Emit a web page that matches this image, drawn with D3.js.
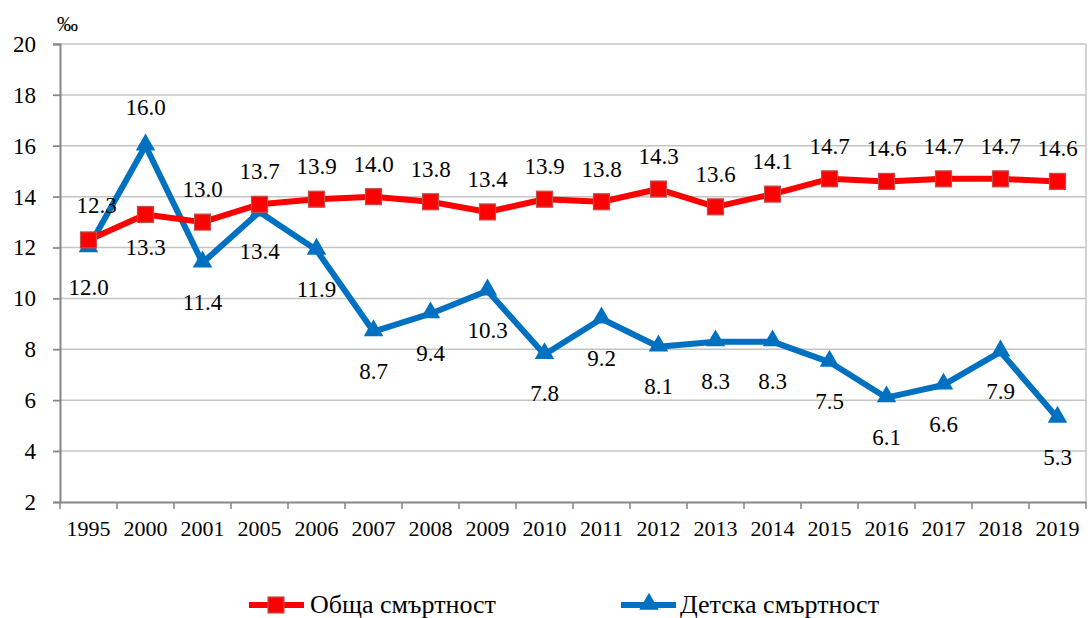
<!DOCTYPE html>
<html>
<head>
<meta charset="utf-8">
<script src="https://cdn.jsdelivr.net/npm/d3@7.9.0/dist/d3.min.js"></script>
<style>
  html, body { margin: 0; padding: 0; background: #fff; }
  svg { display: block; }
  text { font-family: "Liberation Serif", "Times New Roman", serif; fill: #000; }
</style>
</head>
<body>
<svg id="chart" width="1088" height="618"></svg>
<script>
const years = ['1995', '2000', '2001', '2005', '2006', '2007', '2008', '2009', '2010',
  '2011', '2012', '2013', '2014', '2015', '2016', '2017', '2018', '2019'];
const totalMortality = [12.3, 13.3, 13.0, 13.7, 13.9, 14.0, 13.8, 13.4, 13.9,
  13.8, 14.3, 13.6, 14.1, 14.7, 14.6, 14.7, 14.7, 14.6];
const infantMortality = [12.0, 16.0, 11.4, 13.4, 11.9, 8.7, 9.4, 10.3, 7.8,
  9.2, 8.1, 8.3, 8.3, 7.5, 6.1, 6.6, 7.9, 5.3];
const yTicks = [2, 4, 6, 8, 10, 12, 14, 16, 18, 20];
const seriesNames = ['Обща смъртност', 'Детска смъртност'];

const RED = '#ff0000';
const BLUE = '#0070c0';
const GRID = '#c4c4c4';
const AXIS = '#868686';

const svg = d3.select('#chart');

const x = d3.scaleBand().domain(years).range([60, 1086]);
const y = d3.scaleLinear().domain([2, 20]).range([502, 44]);
const cx = d => x(d) + x.bandwidth() / 2;

// gridlines
svg.append('g')
  .selectAll('line')
  .data(yTicks.slice(1))
  .join('line')
  .attr('x1', 53).attr('x2', 1086)
  .attr('y1', d => y(d)).attr('y2', d => y(d))
  .attr('stroke', GRID).attr('stroke-width', 1.5);

// right border of plot
svg.append('line')
  .attr('x1', 1086).attr('x2', 1086)
  .attr('y1', y(20)).attr('y2', y(2))
  .attr('stroke', GRID).attr('stroke-width', 1.5);

// y axis
const yAxis = svg.append('g')
  .attr('transform', 'translate(60,0)')
  .call(d3.axisLeft(y).tickValues(yTicks).tickSize(7).tickPadding(17));
yAxis.select('.domain').attr('stroke', AXIS).attr('stroke-width', 2);
yAxis.selectAll('.tick line').attr('stroke', AXIS).attr('stroke-width', 1.5);
yAxis.selectAll('.tick text')
  .attr('font-size', 23)
  .attr('fill', '#000');

// x axis
const xAxis = svg.append('g')
  .attr('transform', `translate(0,${y(2)})`)
  .call(d3.axisBottom(x).tickSize(0).tickPadding(18));
xAxis.select('.domain').attr('stroke', AXIS).attr('stroke-width', 2);
xAxis.selectAll('.tick text')
  .attr('font-size', 22)
  .attr('fill', '#000');
// tick marks at category boundaries
svg.append('g')
  .selectAll('line')
  .data(years.concat(['end']))
  .join('line')
  .attr('x1', (d, i) => i < years.length ? x(d) : x.range()[1])
  .attr('x2', (d, i) => i < years.length ? x(d) : x.range()[1])
  .attr('y1', y(2)).attr('y2', y(2) + 7)
  .attr('stroke', AXIS).attr('stroke-width', 1.5);

// unit label
svg.append('text')
  .attr('x', 57).attr('y', 31)
  .attr('font-size', 21)
  .text('‰');

const line = d3.line()
  .x((d, i) => cx(years[i]))
  .y(d => y(d));

// blue series first, red on top
svg.append('path')
  .datum(infantMortality)
  .attr('d', line)
  .attr('fill', 'none')
  .attr('stroke', BLUE)
  .attr('stroke-width', 6)
  .attr('stroke-linejoin', 'round');

svg.append('path')
  .datum(totalMortality)
  .attr('d', line)
  .attr('fill', 'none')
  .attr('stroke', RED)
  .attr('stroke-width', 6)
  .attr('stroke-linejoin', 'round');

const triangle = d3.symbol().type(d3.symbolTriangle).size(165);

svg.append('g')
  .selectAll('path')
  .data(infantMortality)
  .join('path')
  .attr('d', triangle)
  .attr('transform', (d, i) => `translate(${cx(years[i])},${y(d) - 1})`)
  .attr('fill', BLUE);

svg.append('g')
  .selectAll('rect')
  .data(totalMortality)
  .join('rect')
  .attr('x', (d, i) => cx(years[i]) - 8)
  .attr('y', d => y(d) - 8)
  .attr('width', 16).attr('height', 16)
  .attr('fill', RED)
  .attr('stroke', '#c0504d')
  .attr('stroke-width', 1.2);

// data labels
const fmt = d3.format('.1f');
svg.append('g')
  .selectAll('text')
  .data(totalMortality)
  .join('text')
  .attr('x', (d, i) => cx(years[i]) + (i === 0 ? 8 : 0))
  .attr('y', (d, i) => y(d) + (i === 1 ? 41 : (i === 0 ? -27 : -25)))
  .attr('text-anchor', 'middle')
  .attr('font-size', 23)
  .text(d => fmt(d));

svg.append('g')
  .selectAll('text')
  .data(infantMortality)
  .join('text')
  .attr('x', (d, i) => cx(years[i]))
  .attr('y', (d, i) => y(d) + (i === 1 ? -31 : 47))
  .attr('text-anchor', 'middle')
  .attr('font-size', 23)
  .text(d => fmt(d));

// legend
const legend = svg.append('g');
legend.append('line')
  .attr('x1', 249).attr('x2', 304).attr('y1', 605).attr('y2', 605)
  .attr('stroke', RED).attr('stroke-width', 6);
legend.append('rect')
  .attr('x', 268).attr('y', 597).attr('width', 16).attr('height', 16)
  .attr('fill', RED).attr('stroke', '#c0504d').attr('stroke-width', 1.2);
legend.append('text')
  .attr('x', 310).attr('y', 613)
  .attr('font-size', 26)
  .text(seriesNames[0]);

legend.append('line')
  .attr('x1', 621).attr('x2', 676).attr('y1', 605).attr('y2', 605)
  .attr('stroke', BLUE).attr('stroke-width', 6);
legend.append('path')
  .attr('d', triangle)
  .attr('transform', 'translate(649,604)')
  .attr('fill', BLUE);
legend.append('text')
  .attr('x', 680).attr('y', 613)
  .attr('font-size', 26)
  .text(seriesNames[1]);
</script>
</body>
</html>
